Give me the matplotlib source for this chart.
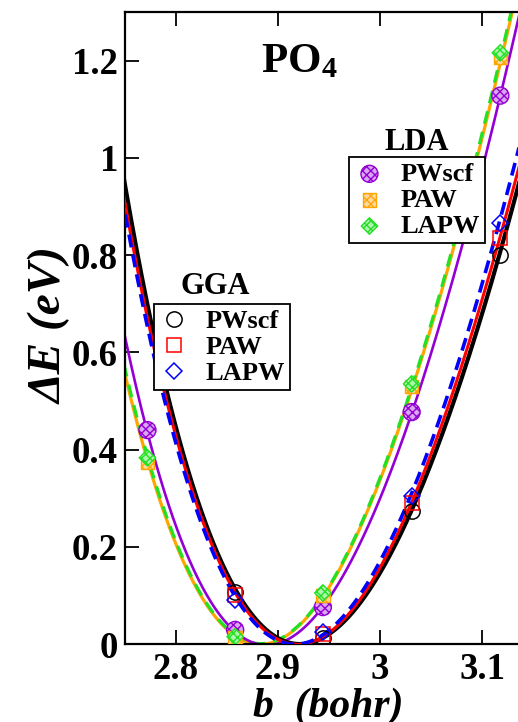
import numpy as np
import matplotlib.pyplot as plt

plt.rcParams['font.family'] = ['Liberation Serif', 'DejaVu Serif']
plt.rcParams['font.weight'] = 'bold'
plt.rcParams['mathtext.fontset'] = 'custom'
plt.rcParams['mathtext.rm'] = 'Liberation Serif'
plt.rcParams['mathtext.bf'] = 'Liberation Serif:bold'
plt.rcParams['mathtext.it'] = 'Liberation Serif:italic:bold'

# b values of the computed points (bohr)
b_gga = [2.858, 2.944, 3.031, 3.118]
b_lda = [2.772, 2.858, 2.944, 3.031, 3.118]

# computed energies (eV)
gga_pwscf = [0.107, 0.012, 0.273, 0.800]
gga_paw = [0.100, 0.020, 0.290, 0.835]
gga_lapw = [0.090, 0.025, 0.305, 0.866]
lda_pwscf = [0.440, 0.029, 0.076, 0.477, 1.128]
lda_paw = [0.373, 0.012, 0.100, 0.530, 1.206]
lda_lapw = [0.383, 0.015, 0.105, 0.535, 1.216]

# fitted E(b) curves, sampled along b
b_fit = [2.75, 2.80, 2.85, 2.90, 2.95, 3.00, 3.05, 3.10, 3.14]
fit_gga_pwscf = [0.945, 0.443, 0.146, 0.013, 0.020, 0.145, 0.371, 0.680, 0.977]
fit_gga_paw = [0.907, 0.425, 0.137, 0.010, 0.024, 0.155, 0.390, 0.710, 1.010]
fit_gga_lapw = [0.887, 0.410, 0.128, 0.008, 0.030, 0.168, 0.410, 0.745, 1.050]
fit_lda_pwscf = [0.633, 0.238, 0.045, 0.003, 0.093, 0.297, 0.598, 0.977, 1.325]
fit_lda_paw = [0.555, 0.204, 0.031, 0.008, 0.116, 0.337, 0.650, 1.041, 1.394]
fit_lda_lapw = [0.566, 0.210, 0.033, 0.008, 0.119, 0.342, 0.657, 1.050, 1.405]

xticks = [2.8, 2.9, 3.0, 3.1]
xtick_labels = ['2.8', '2.9', '3', '3.1']
yticks = [0, 0.2, 0.4, 0.6, 0.8, 1.0, 1.2]
ytick_labels = ['0', '0.2', '0.4', '0.6', '0.8', '1', '1.2']

PURPLE = '#9400d3'
ORANGE = '#ffa500'
GREEN = '#22e022'

fig = plt.figure(figsize=(5.18, 7.22), dpi=100)
ax = fig.add_axes([125 / 518, 78 / 722, 408 / 518, 632 / 722])

bb = np.linspace(2.74, 3.16, 400)


def smooth(vals):
    coef = np.polyfit(b_fit, vals, 4)
    return np.polyval(coef, bb)


# LDA fits
ax.plot(bb, smooth(fit_lda_paw), color=ORANGE, lw=2.3, zorder=2)
ax.plot(bb, smooth(fit_lda_lapw), color=GREEN, lw=2.3, ls=(0, (4, 2.6)), zorder=2)
ax.plot(bb, smooth(fit_lda_pwscf), color=PURPLE, lw=1.9, zorder=2)
# GGA fits
ax.plot(bb, smooth(fit_gga_pwscf), color='black', lw=3.0, zorder=3)
ax.plot(bb, smooth(fit_gga_paw), color='red', lw=2.2, zorder=3)
ax.plot(bb, smooth(fit_gga_lapw), color='blue', lw=2.6, ls=(0, (3.6, 2.0)), zorder=3)

# GGA points: open symbols
g1, = ax.plot(b_gga, gga_pwscf, ls='none', marker='o', ms=11, mfc='none', mec='black', mew=1.1, zorder=5)
g2, = ax.plot(b_gga, gga_paw, ls='none', marker='s', ms=9.5, mfc='none', mec='red', mew=1.1, zorder=5)
g3, = ax.plot(b_gga, gga_lapw, ls='none', marker='D', ms=7.8, mfc='none', mec='blue', mew=1.1, zorder=5)

# LDA points: hatched symbols
lda_style = [(lda_pwscf, 'o', PURPLE, '#d9a6f2', 150),
             (lda_paw, 's', ORANGE, '#ffd9a0', 95),
             (lda_lapw, 'D', GREEN, '#b0f5b0', 70)]
lda_handles = []
for vals, mk, col, fill, sz in lda_style:
    h = ax.scatter(b_lda, vals, s=sz, marker=mk, facecolors=fill, edgecolors=col,
                   linewidths=1.0, hatch='xxxx', zorder=5)
    h._hatch_color = plt.matplotlib.colors.to_rgba(col)
    lda_handles.append(h)

ax.set_xlim(2.75, 3.15)
ax.set_ylim(0, 1.3)
ax.set_xticks(xticks)
ax.set_xticklabels(xtick_labels)
ax.set_yticks(yticks)
ax.set_yticklabels(ytick_labels)
ax.tick_params(direction='in', length=10, width=1.3, top=True, right=True,
               labelsize=26.5, pad=6)
ax.tick_params(axis='y', pad=5)
for sp in ax.spines.values():
    sp.set_linewidth(1.6)

labels = ['PWscf', 'PAW', 'LAPW']
leg_kw = dict(loc='upper left', bbox_transform=fig.transFigure, fontsize=19,
              frameon=True, fancybox=False, framealpha=1, edgecolor='black',
              borderaxespad=0, borderpad=0.2, handlelength=1.15,
              handletextpad=0.6, labelspacing=0.1, scatterpoints=1, numpoints=1)

leg1 = ax.legend([g1, g2, g3], labels, bbox_to_anchor=(154 / 518, 1 - 304 / 722), **leg_kw)
leg1.get_frame().set_linewidth(1.3)
ax.add_artist(leg1)

leg2 = ax.legend(lda_handles, labels, bbox_to_anchor=(349 / 518, 1 - 157 / 722), **leg_kw)
leg2.get_frame().set_linewidth(1.3)
for h, (_, _, col, _, _) in zip(leg2.legend_handles, lda_style):
    h._hatch_color = plt.matplotlib.colors.to_rgba(col)

fig.text(215 / 518, 1 - 287 / 722, 'GGA', fontsize=22, ha='center', va='center')
fig.text(417 / 518, 1 - 143 / 722, 'LDA', fontsize=22, ha='center', va='center')
fig.text(299 / 518, 1 - 62 / 722, r'$\mathbf{PO_4}$', fontsize=31, ha='center', va='center')

fig.text(50 / 518, 1 - 325 / 722, r'ΔE (eV)', fontsize=34, style='italic',
         rotation=90, ha='center', va='center')
fig.text(328 / 518, 1 - 717 / 722, 'b  (bohr)', fontsize=30, style='italic',
         ha='center', va='baseline')

fig.savefig('out.png', dpi=100)
